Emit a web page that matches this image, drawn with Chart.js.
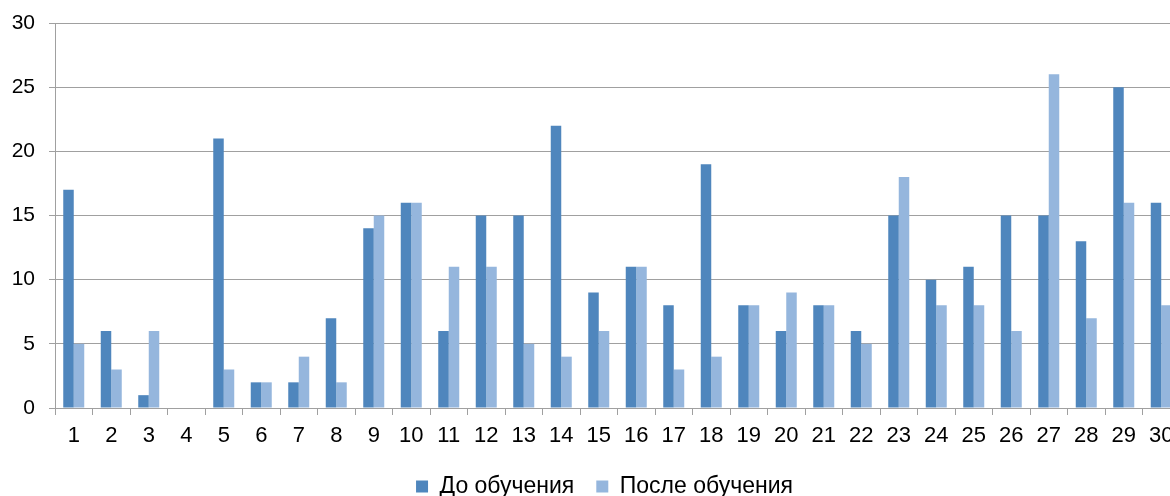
<!DOCTYPE html>
<html>
<head>
<meta charset="utf-8">
<script src="https://cdn.jsdelivr.net/npm/chart.js@4/dist/chart.umd.min.js"></script>
<style>
  html, body { margin: 0; padding: 0; background: #ffffff; overflow: hidden; }
  #wrap { width: 1209px; height: 496px; }
</style>
</head>
<body>
<div id="wrap"><canvas id="chart" width="1209" height="496"></canvas></div>
<script>
// Participants 1–30, scores before and after training
const categories = ['1','2','3','4','5','6','7','8','9','10','11','12','13','14','15','16','17','18','19','20','21','22','23','24','25','26','27','28','29','30'];
const beforeValues = [17, 6, 1, 0, 21, 2, 2, 7, 14, 16, 6, 15, 15, 22, 9, 11, 8, 19, 8, 6, 8, 6, 15, 10, 11, 15, 15, 13, 25, 16];
const afterValues  = [5, 3, 6, 0, 3, 2, 4, 2, 15, 16, 11, 11, 5, 4, 6, 11, 3, 4, 8, 9, 8, 5, 18, 8, 8, 6, 26, 7, 16, 8];
const seriesNames = ['До обучения', 'После обучения'];
const yTicks = [0, 5, 10, 15, 20, 25, 30];

const gridGray = '#A0A0A0';
const family = '"Liberation Sans", Arial, sans-serif';

new Chart(document.getElementById('chart'), {
  type: 'bar',
  data: {
    labels: categories,
    datasets: [
      {
        label: seriesNames[0],
        data: beforeValues,
        backgroundColor: '#4F86BD',
        borderWidth: 0
      },
      {
        label: seriesNames[1],
        data: afterValues,
        backgroundColor: '#95B6DD',
        borderWidth: 0
      }
    ]
  },
  options: {
    responsive: false,
    animation: false,
    devicePixelRatio: 1,
    layout: { padding: { left: 0, right: 0, top: 23, bottom: -12 } },
    datasets: {
      bar: { categoryPercentage: 0.56, barPercentage: 1.0 }
    },
    plugins: {
      tooltip: { enabled: false },
      legend: {
        position: 'bottom',
        labels: {
          color: '#000000',
          font: { family, size: 23 },
          boxWidth: 12,
          boxHeight: 12,
          padding: 22
        }
      }
    },
    scales: {
      x: {
        offset: true,
        grid: {
          offset: true,
          drawOnChartArea: false,
          drawTicks: true,
          tickLength: 7,
          color: gridGray
        },
        border: { color: gridGray, width: 1 },
        ticks: {
          color: '#000000',
          font: { family, size: 22 },
          padding: 8,
          maxRotation: 0,
          autoSkip: false
        },
        afterFit(scale) { scale.height = 45; }
      },
      y: {
        min: 0,
        max: 30,
        afterBuildTicks(scale) { scale.ticks = yTicks.map(v => ({ value: v })); },
        grid: {
          color: gridGray,
          drawTicks: true,
          tickLength: 6
        },
        border: { color: gridGray, width: 1 },
        ticks: {
          color: '#000000',
          font: { family, size: 21, lineHeight: 0.5 },
          padding: 14
        },
        afterFit(scale) { scale.width = 55; }
      },
      // empty right-hand margin axis, keeps the plot edge inside the legend band
      yRight: {
        position: 'right',
        min: 0,
        max: 30,
        grid: { display: false, drawTicks: false },
        border: { display: false },
        ticks: { display: false },
        afterFit(scale) { scale.width = 29; }
      }
    }
  }
});
</script>
</body>
</html>
